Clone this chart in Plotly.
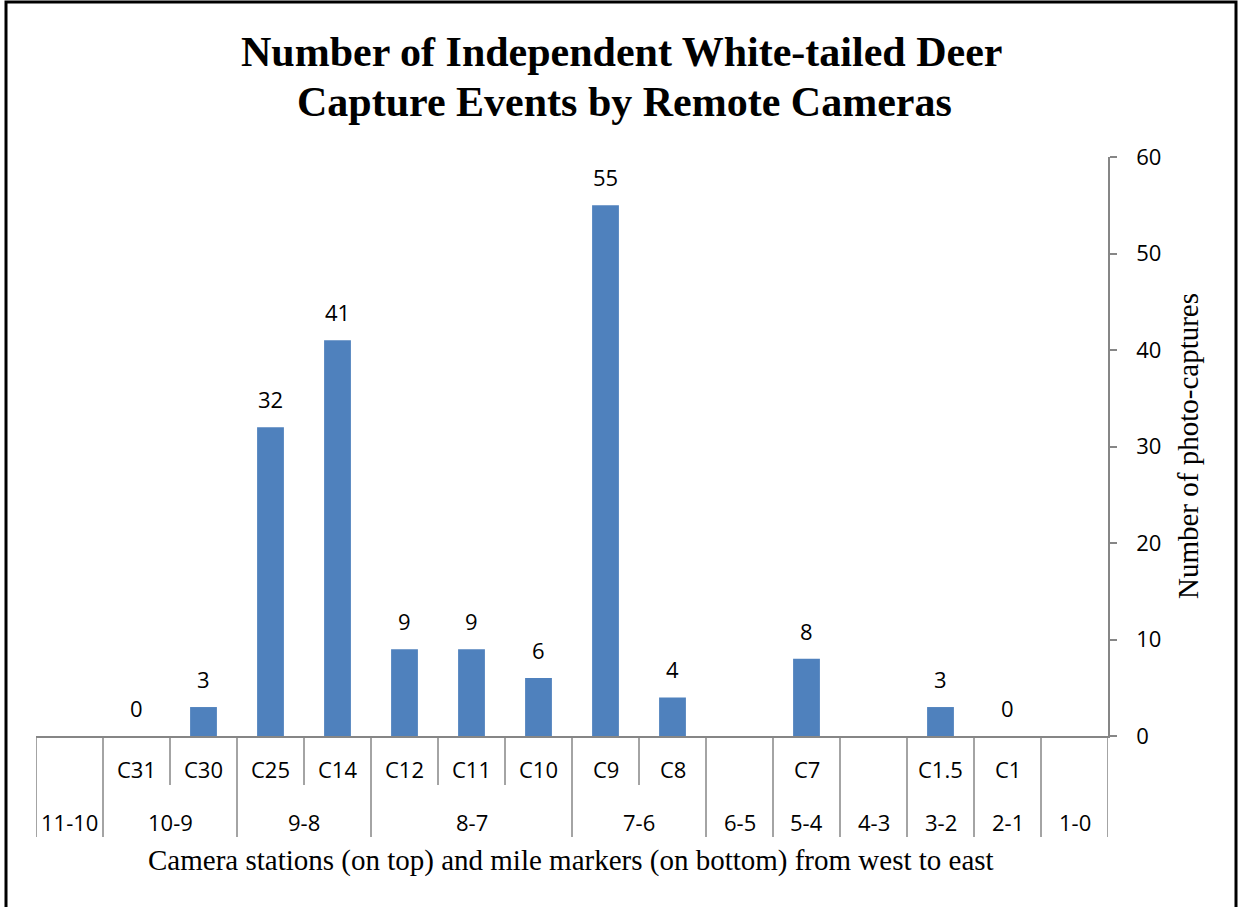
import plotly.graph_objects as go

# ---- data ----
cameras = ["", "C31", "C30", "C25", "C14", "C12", "C11", "C10", "C9", "C8", "", "C7", "", "C1.5", "C1", ""]
captures = [None, 0, 3, 32, 41, 9, 9, 6, 55, 4, None, 8, None, 3, 0, None]
mile_markers = ["11-10", "10-9", "9-8", "8-7", "7-6", "6-5", "5-4", "4-3", "3-2", "2-1", "1-0"]
mile_span = [1, 2, 2, 3, 2, 1, 1, 1, 1, 1, 1]
y_ticks = [0, 10, 20, 30, 40, 50, 60]

title_lines = ["Number of Independent White-tailed Deer", "Capture Events by Remote Cameras"]
x_title = "Camera stations (on top) and mile markers (on bottom) from west to east"
y_title = "Number of photo-captures"

W, H = 1239, 907
L, R, T, B = 36, 131, 157, 171
PW, PH = W - L - R, H - T - B

def px_x(p):
    return (p - L) / PW

def px_y(p):
    return (H - B - p) / PH

SANS = "Open Sans"
SERIF = "Liberation Serif"
GRAY = "#868686"
BAR = "#4F81BD"

idx = list(range(len(cameras)))

fig = go.Figure()
fig.add_trace(go.Bar(
    x=idx, y=captures, marker=dict(color=BAR, line=dict(width=0)),
    width=0.4, hoverinfo="skip", showlegend=False,
))

annotations = []
shapes = []

# data labels
for i, v in zip(idx, captures):
    if v is None:
        continue
    annotations.append(dict(x=i, y=v, xref="x", yref="y", text=str(v), showarrow=False,
                            yanchor="bottom", yshift=11, font=dict(family=SANS, size=22, color="black")))

# camera row labels
for i, c in zip(idx, cameras):
    if c:
        annotations.append(dict(x=i, y=px_y(769), xref="x", yref="paper", text=c, showarrow=False,
                                yanchor="middle", font=dict(family=SANS, size=22, color="black")))

# mile marker labels and group boundaries
group_edges = [0]
for s in mile_span:
    group_edges.append(group_edges[-1] + s)
for g, m in enumerate(mile_markers):
    start, end = group_edges[g], group_edges[g + 1]
    center = (start + end - 1) / 2
    annotations.append(dict(x=center, y=px_y(822), xref="x", yref="paper", text=m, showarrow=False,
                            yanchor="middle", font=dict(family=SANS, size=22, color="black")))

for k in range(len(cameras) + 1):
    bottom = px_y(837) if k in group_edges else px_y(785)
    shapes.append(dict(type="line", xref="x", yref="paper", x0=k - 0.5, x1=k - 0.5,
                       y0=0, y1=bottom, line=dict(color=GRAY, width=1.5)))

# titles
annotations.append(dict(x=px_x(621), y=px_y(52), xref="paper", yref="paper", text="<b>" + title_lines[0] + "</b>",
                        showarrow=False, yanchor="middle", xanchor="center",
                        font=dict(family=SERIF, size=42, color="black")))
annotations.append(dict(x=px_x(624), y=px_y(102), xref="paper", yref="paper", text="<b>" + title_lines[1] + "</b>",
                        showarrow=False, yanchor="middle", xanchor="center",
                        font=dict(family=SERIF, size=42, color="black")))
annotations.append(dict(x=px_x(571), y=px_y(860), xref="paper", yref="paper", text=x_title,
                        showarrow=False, yanchor="middle", xanchor="center",
                        font=dict(family=SERIF, size=29, color="black")))
annotations.append(dict(x=px_x(1188), y=px_y(446), xref="paper", yref="paper", text=y_title,
                        showarrow=False, yanchor="middle", xanchor="center", textangle=-90,
                        font=dict(family=SERIF, size=29, color="black")))

# outer border
shapes.append(dict(type="rect", xref="paper", yref="paper",
                   x0=px_x(6), x1=px_x(1236), y0=px_y(912), y1=px_y(2),
                   line=dict(color="black", width=3), fillcolor="rgba(0,0,0,0)"))

fig.update_layout(
    width=W, height=H,
    margin=dict(l=L, r=R, t=T, b=B, pad=0),
    paper_bgcolor="white", plot_bgcolor="white",
    bargap=0.6,
    annotations=annotations, shapes=shapes,
    xaxis=dict(range=[-0.5, len(cameras) - 0.5], showticklabels=False, ticks="",
               showgrid=False, zeroline=False, showline=True, linecolor=GRAY, linewidth=1.5,
               fixedrange=True),
    yaxis=dict(range=[0, 60], side="right", tickvals=y_ticks, ticks="outside", ticklen=7,
               tickcolor=GRAY, tickwidth=1.5, showline=True, linecolor=GRAY, linewidth=1.5,
               showgrid=False, zeroline=False, ticklabelstandoff=15,
               tickfont=dict(family=SANS, size=22, color="black"), fixedrange=True),
)

fig.write_html("out.html")
